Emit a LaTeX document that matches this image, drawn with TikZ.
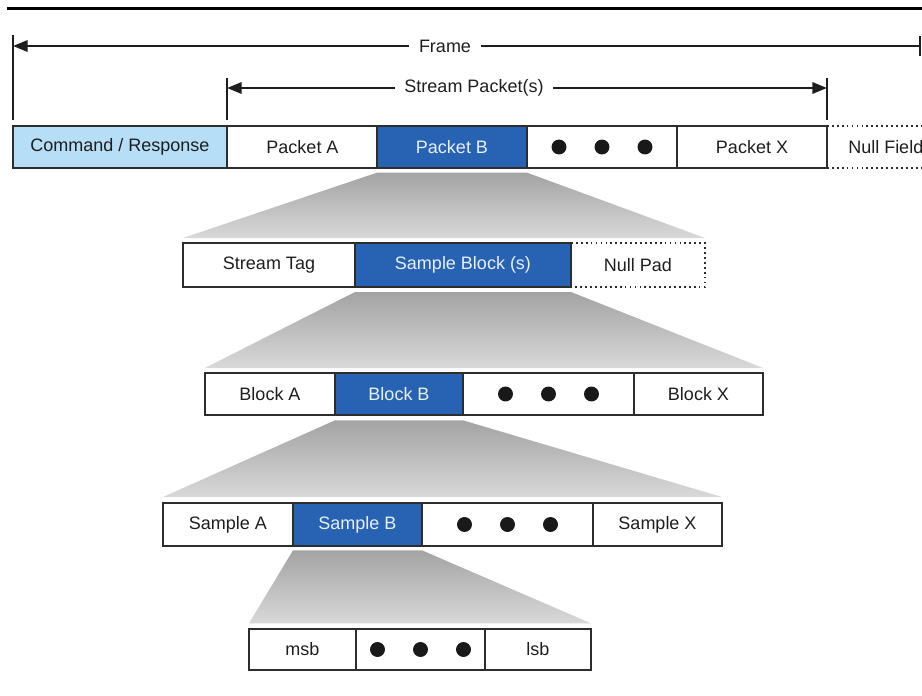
\documentclass[tikz,border=0pt]{standalone}
\usepackage{fontspec}
\setmainfont{Liberation Sans}
\usetikzlibrary{arrows.meta}

\definecolor{boxblue}{RGB}{40,98,178}
\definecolor{cmdblue}{RGB}{182,222,246}
\definecolor{edgegray}{RGB}{45,45,45}
\definecolor{ink}{RGB}{30,30,30}
\definecolor{paleink}{RGB}{232,240,250}

\tikzset{
  cell/.style={draw=edgegray, line width=1.1pt, rectangle, inner sep=0pt, outer sep=0pt,
    anchor=north west, text=ink, font=\fontsize{13.5}{16}\selectfont},
  opencell/.style={cell, draw=none},
  hicell/.style={cell, fill=boxblue, text=paleink},
  cmdcell/.style={cell, fill=cmdblue},
  w/.style={minimum width=#1*0.75pt},
  h/.style={minimum height=#1*0.75pt},
  dotline/.style={draw=edgegray, line width=1.1pt, dash pattern=on 1.3pt off 2.4pt},
  funnel/.style={top color=black!36, bottom color=black!15},
  spanarrow/.style={line width=1.8pt, draw=ink, -{Triangle[length=11pt,width=8.5pt]}},
  spanline/.style={line width=1.8pt, draw=ink},
  tick/.style={line width=0.8pt, draw=ink},
  lbl/.style={text=ink, font=\fontsize{13.5}{16}\selectfont, inner xsep=7pt, inner ysep=0pt},
  bullet/.style={fill=black!90}
}

% three filled bullets centred in a cell
\newcommand{\ellipsisdots}[1]{%
  \fill[bullet] ([xshift=-32.25pt]#1.center) circle[radius=5.6pt];
  \fill[bullet] (#1.center) circle[radius=5.6pt];
  \fill[bullet] ([xshift=32.25pt]#1.center) circle[radius=5.6pt];
}

\begin{document}
\begin{tikzpicture}[x=0.75pt,y=-0.75pt]
\useasboundingbox (0,0) rectangle (922,696);

% header rule
\draw[line width=2.25pt, draw=black] (7,8) -- (922,8);

% ---- frame row ----
\node[cmdcell, w=214, h=42] (cmd) at (13,126) {Command / Response};
\node[cell,    w=151, h=42] (pa)  at (227,126) {Packet A};
\node[hicell,  w=150, h=42] (pb)  at (377,126) {Packet B};
\node[cell,    w=150, h=42] (pd)  at (527,126) {};
\node[cell,    w=150, h=42] (px)  at (677,126) {Packet X};
\node[opencell,w=95,  h=42] (nf)  at (827,126) {};
\node[lbl, anchor=west, inner xsep=0pt] (nft) at (848,147) {Null Field};
\ellipsisdots{pd}
\draw[dotline] (px.north east) -- (nf.north east);
\draw[dotline] (px.south east) -- (nf.south east);

% frame span
\node[lbl] (frame) at (445,46) {Frame};
\coordinate (frl) at (13,46);
\coordinate (frr) at (920,46);
\draw[spanarrow] (frame.west) -- (frl);
\draw[spanline] (frame.east) -- (frr);
\draw[tick] (13,35) -- (13,120);
\draw[tick] (920,36) -- (920,56);

% stream packet span
\node[lbl] (spk) at (474,88) {Stream Packet(s)};
\coordinate (spl) at (227,88);
\coordinate (spr) at (827,88);
\draw[spanarrow] (spk.west) -- (spl);
\draw[spanarrow] (spk.east) -- (spr);
\draw[tick] (227,78) -- (227,120);
\draw[tick] (827,78) -- (827,120);

% ---- stream packet row ----
\node[cell,    w=172, h=44] (st) at (183,243) {Stream Tag};
\node[hicell,  w=216, h=44] (sb) at (355,243) {Sample Block (s)};
\node[opencell,w=134, h=44] (np) at (571,243) {Null Pad};
\draw[dotline] (sb.north east) -- (np.north east) -- (np.south east) -- (sb.south east);

% ---- sample block row ----
\node[cell,   w=130, h=42] (ba) at (205,373) {Block A};
\node[hicell, w=128, h=42] (bb) at (335,373) {Block B};
\node[cell,   w=171, h=42] (bd) at (463,373) {};
\node[cell,   w=129, h=42] (bx) at (634,373) {Block X};
\ellipsisdots{bd}

% ---- sample row ----
\node[cell,   w=130, h=43] (sa) at (163,503) {Sample A};
\node[hicell, w=129, h=43] (sbb) at (293,503) {Sample B};
\node[cell,   w=171, h=43] (sd) at (422,503) {};
\node[cell,   w=129, h=43] (sx) at (593,503) {Sample X};
\ellipsisdots{sd}

% ---- bit row ----
\node[cell, w=107, h=41] (msb) at (249,629) {msb};
\node[cell, w=129, h=41] (bd2) at (356,629) {};
\node[cell, w=106, h=41] (lsb) at (485,629) {lsb};
\ellipsisdots{bd2}

% ---- expansion funnels ----
\shade[funnel] ([yshift=-3.5pt]pb.south west) -- ([yshift=-3.5pt]pb.south east)
  -- ([yshift=3.75pt]np.north east) -- ([yshift=3.75pt]st.north west) -- cycle;
\shade[funnel] ([yshift=-3.75pt]sb.south west) -- ([yshift=-3.75pt]sb.south east)
  -- ([yshift=3.75pt]bx.north east) -- ([yshift=3.75pt]ba.north west) -- cycle;
\shade[funnel] ([yshift=-4pt]bb.south west) -- ([yshift=-4pt]bb.south east)
  -- ([yshift=4.5pt]sx.north east) -- ([yshift=4.5pt]sa.north west) -- cycle;
\shade[funnel] ([yshift=-3.25pt]sbb.south west) -- ([yshift=-3.25pt]sbb.south east)
  -- ([yshift=4.25pt]lsb.north east) -- ([yshift=4.25pt]msb.north west) -- cycle;
\end{tikzpicture}
\end{document}
